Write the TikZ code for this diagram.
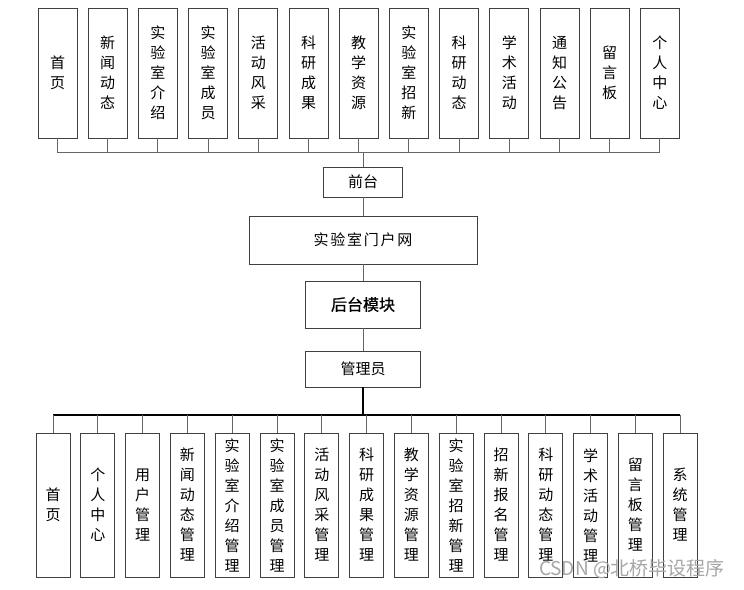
\documentclass[tikz,border=0pt]{standalone}
\usepackage{fontspec}
\newfontfamily\cjk{Noto Sans CJK SC}
\begin{document}
\begin{tikzpicture}[
  x=1pt, y=-1pt,
  vbox/.style={draw=black!75, line width=0.9pt, fill=white, align=center, inner sep=0pt, minimum width=39pt, minimum height=130pt, font=\cjk\fontsize{15}{20}\selectfont},
  lbox/.style={vbox, minimum width=34pt, minimum height=144pt},
  hbox/.style={draw=black!75, line width=0.9pt, fill=white, align=center, inner sep=0pt, font=\cjk\fontsize{15}{20}\selectfont},
  link/.style={draw=black!60, line width=0.9pt},
  bus/.style={draw=black, line width=1.3pt}
]
\useasboundingbox (0,0) rectangle (744,589);

% front pages
\node[vbox] (t1) at (57.5,73) {首\\页};
\node[vbox] (t2) at (107.7,73) {新\\闻\\动\\态};
\node[vbox] (t3) at (157.9,73) {实\\验\\室\\介\\绍};
\node[vbox] (t4) at (208.1,73) {实\\验\\室\\成\\员};
\node[vbox] (t5) at (258.3,73) {活\\动\\风\\采};
\node[vbox] (t6) at (308.5,73) {科\\研\\成\\果};
\node[vbox] (t7) at (358.7,73) {教\\学\\资\\源};
\node[vbox] (t8) at (408.9,73) {实\\验\\室\\招\\新};
\node[vbox] (t9) at (459.1,73) {科\\研\\动\\态};
\node[vbox] (t10) at (509.3,73) {学\\术\\活\\动};
\node[vbox] (t11) at (559.5,73) {通\\知\\公\\告};
\node[vbox] (t12) at (609.7,73) {留\\言\\板};
\node[vbox] (t13) at (659.9,73) {个\\人\\中\\心};

% middle column
\node[hbox, minimum width=79pt, minimum height=30pt] (front) at (363,182) {前台};
\node[hbox, minimum width=228pt, minimum height=48pt] (portal) at (363,240) {\addfontfeature{LetterSpace=12}实验室门户网};
\node[hbox, minimum width=115pt, minimum height=47pt, font=\cjk\fontsize{16}{20}\selectfont] (back) at (363,304.5) {\addfontfeature{FakeBold=0.8}后台模块};
\node[hbox, minimum width=115pt, minimum height=36pt] (admin) at (363,369) {管理员};

% admin pages
\node[lbox] (b1) at (53,505) {首\\页};
\node[lbox] (b2) at (97.8,505) {个\\人\\中\\心};
\node[lbox] (b3) at (142.6,505) {用\\户\\管\\理};
\node[lbox] (b4) at (187.4,505) {新\\闻\\动\\态\\管\\理};
\node[lbox] (b5) at (232.2,505) {实\\验\\室\\介\\绍\\管\\理};
\node[lbox] (b6) at (277,505) {实\\验\\室\\成\\员\\管\\理};
\node[lbox] (b7) at (321.8,505) {活\\动\\风\\采\\管\\理};
\node[lbox] (b8) at (366.6,505) {科\\研\\成\\果\\管\\理};
\node[lbox] (b9) at (411.4,505) {教\\学\\资\\源\\管\\理};
\node[lbox] (b10) at (456.2,505) {实\\验\\室\\招\\新\\管\\理};
\node[lbox] (b11) at (501,505) {招\\新\\报\\名\\管\\理};
\node[lbox] (b12) at (545.8,505) {科\\研\\动\\态\\管\\理};
\node[lbox] (b13) at (590.6,505) {学\\术\\活\\动\\管\\理};
\node[lbox] (b14) at (635.4,505) {留\\言\\板\\管\\理};
\node[lbox] (b15) at (680.2,505) {系\\统\\管\\理};

\coordinate (topbus) at (363,152);
\coordinate (botbus) at (363,415);

\foreach \i in {1,...,13} \draw[link] (t\i) |- (topbus);
\draw[link] (topbus) -- (front);
\draw[link] (front) -- (portal);
\draw[link] (portal) -- (back);
\draw[link] (back) -- (admin);
\draw[bus] (admin) -- (botbus);
\draw[bus] (b1.north |- botbus) -- (b15.north |- botbus);
\foreach \i in {1,...,15} \draw[link] (b\i) -- (b\i.north |- botbus);

\node[font=\cjk\fontsize{19}{19}\selectfont, text=black!35] (mark) at (632,569) {CSDN @北桥毕设程序};
\end{tikzpicture}
\end{document}
